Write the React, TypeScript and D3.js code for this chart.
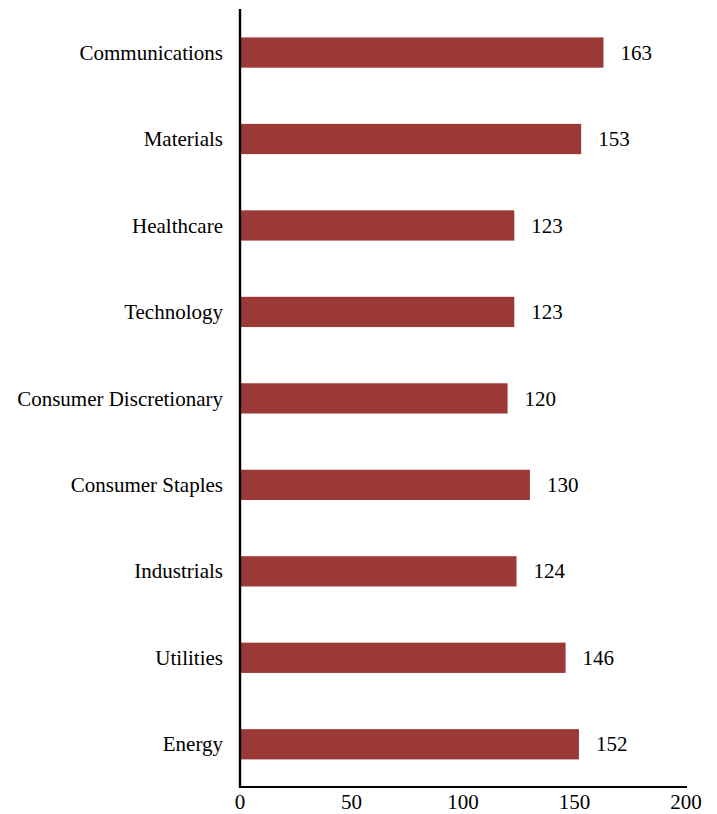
import React from "react";
import * as d3 from "d3";

const categories = [
  "Communications",
  "Materials",
  "Healthcare",
  "Technology",
  "Consumer Discretionary",
  "Consumer Staples",
  "Industrials",
  "Utilities",
  "Energy",
];
const values = [163, 153, 123, 123, 120, 130, 124, 146, 152];
const xTicks = [0, 50, 100, 150, 200];

const W = 717;
const H = 814;
const FONT = "'Liberation Serif', 'Times New Roman', Times, serif";
const BAR = "#9b3937";

export default function App() {
  const x = d3.scaleLinear().domain([0, 200]).range([240, 686]);
  const y = d3
    .scaleBand<string>()
    .domain(categories)
    .range([9.3, 787.5])
    .paddingInner(0.65)
    .paddingOuter(0.325);
  const axisY = 787;

  return (
    <svg
      width={W}
      height={H}
      style={{ position: "absolute", left: 0, top: 0, background: "#fff" }}
      fontFamily={FONT}
    >
      <rect x={0} y={0} width={W} height={H} fill="#fff" />
      {categories.map((c, i) => {
        const yy = y(c) as number;
        const bw = y.bandwidth();
        return (
          <g key={c}>
            <rect
              x={x(0)}
              y={yy}
              width={x(values[i]) - x(0)}
              height={bw}
              fill={BAR}
            />
            <text
              x={223}
              y={yy + bw / 2}
              dy="0.34em"
              textAnchor="end"
              fontSize={21}
              fill="#000"
            >
              {c}
            </text>
            <text
              x={x(values[i]) + 17}
              y={yy + bw / 2}
              dy="0.34em"
              textAnchor="start"
              fontSize={21}
              fill="#000"
            >
              {values[i]}
            </text>
          </g>
        );
      })}
      <line x1={x(0)} x2={x(0)} y1={9} y2={axisY + 1} stroke="#000" strokeWidth={2.4} />
      <line x1={x(0) - 1} x2={x(200) + 1} y1={axisY} y2={axisY} stroke="#000" strokeWidth={2} />
      {xTicks.map((t) => (
        <text
          key={t}
          x={x(t)}
          y={809}
          textAnchor="middle"
          fontSize={21}
          fill="#000"
        >
          {t}
        </text>
      ))}
    </svg>
  );
}
